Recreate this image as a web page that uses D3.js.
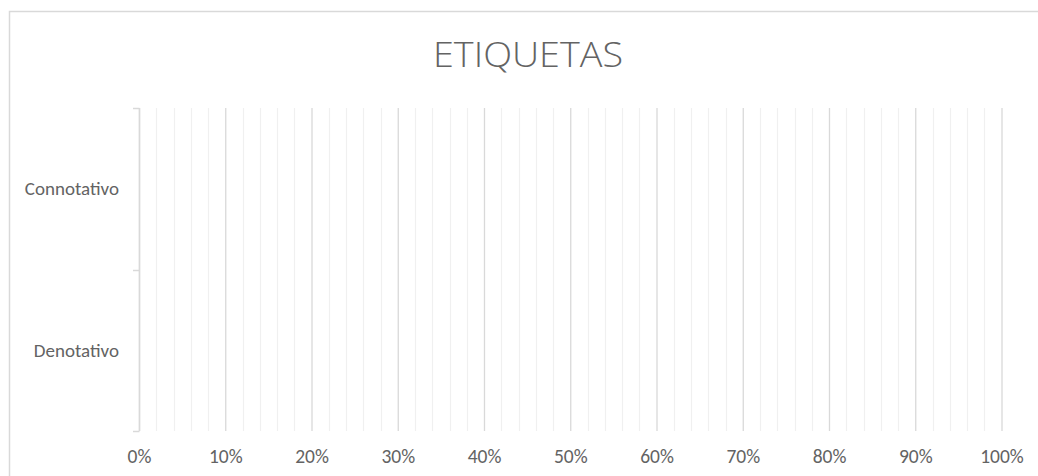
<!DOCTYPE html>
<html>
<head>
<meta charset="utf-8">
<script src="https://cdn.jsdelivr.net/npm/d3@7"></script>
<style>
  html, body { margin: 0; padding: 0; background: #fff; overflow: hidden; }
  svg text { font-family: Calibri, Carlito, 'Open Sans', sans-serif; fill: #636363; }
</style>
</head>
<body>
<svg width="1038" height="476"></svg>
<script>
const categories = ['Connotativo', 'Denotativo']
const values = [0, 0]
const xTicks = [0, 0.1, 0.2, 0.3, 0.4, 0.5, 0.6, 0.7, 0.8, 0.9, 1]
const minorTicks = d3.range(0, 51).map(i => i / 50)
const title = 'ETIQUETAS'

const svg = d3.select('svg')
const width = +svg.attr('width')
const height = +svg.attr('height')
const margin = { top: 108, left: 139 }
const innerWidth = 862.5
const innerHeight = 323

// chart frame: only the left and top edges are inside the picture
svg.append('path')
  .attr('d', `M9.5,${height} V11.5 H${width}`)
  .attr('fill', 'none')
  .attr('stroke', '#d9d9d9')
  .attr('stroke-width', 1.5)

const g = svg.append('g')
  .attr('transform', `translate(${margin.left}, ${margin.top})`)

const xScale = d3.scaleLinear()
  .domain([0, 1])
  .range([0, innerWidth])

const yScale = d3.scaleBand()
  .domain(categories)
  .range([0, innerHeight])
  .paddingInner(0.5)
  .paddingOuter(0.25)

// minor gridlines
g.append('g').selectAll('line')
  .data(minorTicks.filter((d, i) => i % 5 !== 0))
  .join('line')
  .attr('x1', d => Math.round(xScale(d)) + 0.5)
  .attr('x2', d => Math.round(xScale(d)) + 0.5)
  .attr('y1', 0)
  .attr('y2', innerHeight)
  .attr('stroke', '#f0f0f0')
  .attr('stroke-width', 1.2)

const xAxis = d3.axisBottom(xScale)
  .tickValues(xTicks)
  .tickFormat(d3.format('.0%'))
  .tickSize(-innerHeight)
  .tickPadding(18)

const xAxisGroup = g.append('g')
  .attr('transform', `translate(0, ${innerHeight})`)
  .attr('font-size', 19.5)
  .attr('font-family', null)
  .call(xAxis)
xAxisGroup.select('.domain').remove()
xAxisGroup.selectAll('line').attr('stroke', '#d9d9d9').attr('stroke-width', 1.3)
xAxisGroup.attr('font-size', 19.5).attr('font-family', null)
xAxisGroup.selectAll('text').attr('fill', '#636363')

// bars (values are all empty in the source)
g.append('g').selectAll('rect')
  .data(categories)
  .join('rect')
  .attr('x', 0)
  .attr('y', d => yScale(d))
  .attr('width', (d, i) => xScale(values[i]))
  .attr('height', yScale.bandwidth())
  .attr('fill', '#4472c4')

// vertical axis with category separators
const yEdges = [0, innerHeight / 2, innerHeight]
const yAxisGroup = g.append('g')
yAxisGroup.append('line')
  .attr('x1', 0.5).attr('x2', 0.5)
  .attr('y1', 0).attr('y2', innerHeight)
  .attr('stroke', '#d9d9d9').attr('stroke-width', 1.5)
yAxisGroup.selectAll('.sep')
  .data(yEdges)
  .join('line')
  .attr('class', 'sep')
  .attr('x1', -6).attr('x2', 0.5)
  .attr('y1', d => Math.round(d) + 0.5)
  .attr('y2', d => Math.round(d) + 0.5)
  .attr('stroke', '#d9d9d9').attr('stroke-width', 1.5)
yAxisGroup.selectAll('text')
  .data(categories)
  .join('text')
  .attr('x', -20)
  .attr('y', d => yScale(d) + yScale.bandwidth() / 2)
  .attr('dy', '0.35em')
  .attr('text-anchor', 'end')
  .attr('font-size', 19)
  .text(d => d)

svg.append('text')
  .attr('x', 528)
  .attr('y', 67)
  .attr('text-anchor', 'middle')
  .attr('font-size', 34)
  .attr('font-weight', 300)
  .attr('textLength', 190)
  .attr('lengthAdjust', 'spacingAndGlyphs')
  .style('font-family', "'Open Sans', sans-serif")
  .text(title)
</script>
</body>
</html>
